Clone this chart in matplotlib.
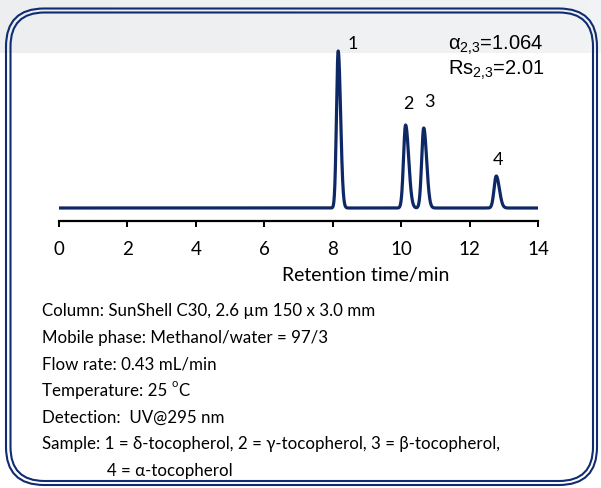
import numpy as np
import matplotlib
matplotlib.use("Agg")
import matplotlib.pyplot as plt
from matplotlib.patches import FancyBboxPatch

plt.rcParams['mathtext.fontset'] = 'custom'
plt.rcParams['mathtext.rm'] = 'Liberation Sans'
plt.rcParams['mathtext.it'] = 'Liberation Sans'

# peak table (time in min, height in arbitrary units)
peak_labels = ['1', '2', '3', '4']
peak_rt = [8.16, 10.13, 10.66, 12.78]
peak_height = [157, 83, 80, 32]
peak_sigma_front = [0.050, 0.060, 0.060, 0.064]
peak_sigma_tail = [0.070, 0.090, 0.085, 0.090]
label_offset_t = [0.42, 0.07, 0.18, 0.05]
label_offset_y = [8, 22, 27, 17]

xticks = [0, 2, 4, 6, 8, 10, 12, 14]
conditions = [
    "Column: SunShell C30, 2.6 \u00b5m 150 x 3.0 mm",
    "Mobile phase: Methanol/water = 97/3",
    "Flow rate: 0.43 mL/min",
    "Temperature: 25 ",
    "Detection:  UV@295 nm",
    "Sample: 1 = \u03b4-tocopherol, 2 = \u03b3-tocopherol, 3 = \u03b2-tocopherol,",
]
sample_cont = "4 = \u03b1-tocopherol"

navy = '#0f2c72'
trace_col = '#0e2866'

W, H = 601, 489
fig = plt.figure(figsize=(W / 100, H / 100), dpi=100)

# background layer in pixel coordinates
bg = fig.add_axes([0, 0, 1, 1], zorder=0)
bg.set_xlim(0, W)
bg.set_ylim(H, 0)
bg.axis('off')
grad = np.linspace(0, 1, 50).reshape(1, -1)
bg.imshow(grad, extent=(0, W, 54, 0), cmap=matplotlib.colors.LinearSegmentedColormap.from_list(
    'g', ['#eceef0', '#f2f3f5']), aspect='auto', zorder=0)
bg.add_patch(FancyBboxPatch((6, 9.5), 591, 476.5, boxstyle="round,pad=0,rounding_size=38",
                            fc='none', ec=navy, lw=1.5, zorder=2))
bg.add_patch(FancyBboxPatch((10.5, 13.5), 582.5, 468.5, boxstyle="round,pad=0,rounding_size=34",
                            fc='none', ec=navy, lw=1.5, zorder=2))

# chromatogram axes
x0, x1 = 59, 538
ybot, ytop = 222, 40
ax = fig.add_axes([x0 / W, 1 - ybot / H, (x1 - x0) / W, (ybot - ytop) / H], zorder=1)
ax.patch.set_alpha(0)

t = np.linspace(0, 14, 3000)
signal = np.zeros_like(t)
for rt, h, sf, st in zip(peak_rt, peak_height, peak_sigma_front, peak_sigma_tail):
    s = np.where(t < rt, sf, st)
    signal += h * np.exp(-0.5 * ((t - rt) / s) ** 2)
ax.plot(t, signal, color=trace_col, lw=2.3, solid_capstyle='butt')

ax.set_xlim(0, 14)
ax.set_ylim(-13, 169)
for sp in ['top', 'right', 'left']:
    ax.spines[sp].set_visible(False)
ax.spines['bottom'].set_linewidth(1.6)
ax.set_yticks([])
ax.set_xticks(xticks)
ax.tick_params(axis='x', direction='out', length=4.5, width=1.4, pad=9, labelsize=13.5)
for lab in ax.get_xticklabels():
    lab.set_fontfamily('Lato')
ax.set_xlabel("Retention time/min", fontfamily='Lato', fontsize=14)
ax.xaxis.set_label_coords((366 - x0) / (x1 - x0), -0.25)

for lab, rt, h, dt, dy in zip(peak_labels, peak_rt, peak_height, label_offset_t, label_offset_y):
    ax.text(rt + dt, h + dy, lab, ha='center', va='center', fontsize=13, fontfamily='Lato')

bg.text(448, 45, "\u03b1$_{2{,}3}$=1.064", fontsize=14.5, fontfamily='Liberation Sans', va='center', ha='left', zorder=3)
bg.text(448, 70, "Rs$_{2{,}3}$=2.01", fontsize=14.5, fontfamily='Liberation Sans', va='center', ha='left', zorder=3)

lines = []
for i, line in enumerate(conditions):
    lines.append(bg.text(42, 316 + i * 26.6, line, fontsize=12.2, fontfamily='Lato',
                         va='baseline', ha='left', zorder=3))
bg.text(107, 316 + 6 * 26.6, sample_cont, fontsize=12.2, fontfamily='Lato', va='baseline', ha='left', zorder=3)

# superscript "o" for degree sign, then "C"
temp = lines[3]
deg = bg.annotate("o", xy=(1, 0.62), xycoords=temp, fontsize=8, fontfamily='Lato',
                  va='bottom', ha='left', zorder=3)
bg.annotate("C", xy=(1, 0), xycoords=(deg, temp), fontsize=12.2, fontfamily='Lato',
            va='bottom', ha='left', zorder=3)

fig.savefig("out.png", dpi=100)
